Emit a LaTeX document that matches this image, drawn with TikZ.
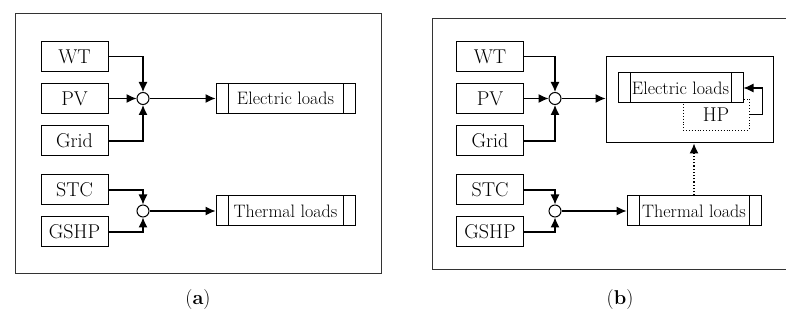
\documentclass[tikz,border=0pt]{standalone}
\usepackage{tikz}
\usetikzlibrary{arrows.meta}
\tikzset{
  srcbox/.style  = {draw,line width=1pt,minimum width=67pt,minimum height=30pt,font=\fontsize{20}{24}\selectfont},
  loadbox/.style = {draw,line width=1pt,fill=white,minimum height=30pt,font=\fontsize{18}{22}\selectfont,
    path picture={%
      \draw[line width=1pt] ([xshift=12pt]path picture bounding box.north west) -- ([xshift=12pt]path picture bounding box.south west);
      \draw[line width=1pt] ([xshift=-12pt]path picture bounding box.north east) -- ([xshift=-12pt]path picture bounding box.south east);}},
  junc/.style    = {circle,draw,line width=1pt,fill=white,minimum size=12pt,inner sep=0pt},
  flowarr/.style = {-{Latex[length=10pt,width=9pt]},line width=1.2pt},
  panel/.style   = {draw=black!80,line width=1pt}
}
% sources and junctions of one panel: prefix, box centre x, junction x
\newcommand{\sources}[3]{%
  \node[srcbox] (#1wt)   at (#2,264.5) {WT};
  \node[srcbox] (#1pv)   at (#2,222.5) {PV};
  \node[srcbox] (#1grid) at (#2,180)   {Grid};
  \node[srcbox] (#1stc)  at (#2,131)   {STC};
  \node[srcbox] (#1gshp) at (#2,89)    {GSHP};
  \node[junc]   (#1je)   at (#3,222.5) {};
  \node[junc]   (#1jt)   at (#3,110)   {};
  \draw[flowarr] (#1wt.east)   -| (#1je.north);
  \draw[flowarr] (#1pv.east)   -- (#1je.west);
  \draw[flowarr] (#1grid.east) -| (#1je.south);
  \draw[flowarr] (#1stc.east)  -| (#1jt.north);
  \draw[flowarr] (#1gshp.east) -| (#1jt.south);
}
\begin{document}
\begin{tikzpicture}[x=1pt,y=1pt]
  \useasboundingbox (0,0) rectangle (786,321);
  % panel (a)
  \draw[panel] (15,47) rectangle (381,307);
  \sources{a}{74.5}{143}
  \node[loadbox,minimum width=139pt] (ael) at (285.5,222.5) {Electric loads};
  \node[loadbox,minimum width=139pt] (ath) at (285.5,110)   {Thermal loads};
  \draw[flowarr] (aje.east) -- (ael.west);
  \draw[flowarr] (ajt.east) -- (ath.west);
  \node[font=\fontsize{20}{24}\selectfont] (capa) at (198,21) {(\textbf{a})};
  % panel (b)
  \draw[panel] (432,51) rectangle (790,302);
  \sources{b}{490}{555}
  \node[draw,line width=1pt,minimum width=167pt,minimum height=86pt] (bhub) at (689.5,221) {};
  \node[draw,dotted,line width=0.9pt,minimum width=66pt,minimum height=31pt,
        font=\fontsize{20}{24}\selectfont] (bhp) at (716,206.5) {HP};
  \node[loadbox,minimum width=125pt] (bel) at (680.5,233) {Electric loads};
  \node[loadbox,minimum width=134pt] (bth) at (694,110)   {Thermal loads};
  \draw[flowarr] (bhp.east) -- ++(13,0) |- (bel.east);
  \draw[flowarr] (bje.east) -- (bje.east -| bhub.west);
  \draw[flowarr] (bjt.east) -- (bth.west);
  \draw[flowarr,dotted] (bth.north) -- (bth.north |- bhub.south);
  \node[font=\fontsize{20}{24}\selectfont] (capb) at (620,21) {(\textbf{b})};
\end{tikzpicture}
\end{document}
